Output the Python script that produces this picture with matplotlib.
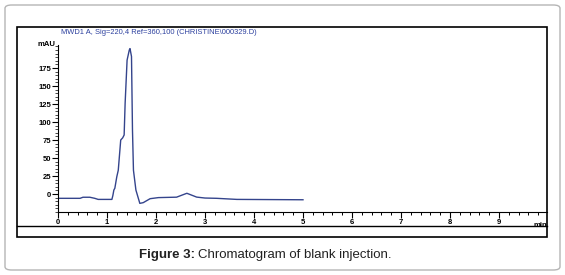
import matplotlib
matplotlib.use("Agg")
import matplotlib.pyplot as plt
from matplotlib.patches import FancyBboxPatch, Rectangle
from matplotlib.lines import Line2D
from matplotlib.ticker import MultipleLocator

# Data
time_min = [0.0, 0.45, 0.51, 0.65, 0.75, 0.82, 1.10, 1.12, 1.14, 1.16, 1.20, 1.23,
            1.28, 1.32, 1.35, 1.37, 1.41, 1.455, 1.47, 1.50, 1.52, 1.54, 1.59,
            1.67, 1.74, 1.88, 2.05, 2.42, 2.63, 2.83, 3.0, 3.24, 3.65, 5.0]
signal_mau = [-6.0, -6.0, -4.5, -4.5, -6.0, -7.5, -7.5, -2.0, 5.5, 8.0, 24.0, 33.0,
              75.0, 78.0, 82.0, 126.0, 186.0, 200.0, 202.0, 191.0, 89.0, 33.0, 5.5,
              -13.0, -12.0, -6.5, -5.0, -4.4, 1.0, -4.3, -5.6, -6.0, -7.5, -8.0]
y_ticks = [0, 25, 50, 75, 100, 125, 150, 175]
x_ticks = [0, 1, 2, 3, 4, 5, 6, 7, 8, 9]
title_text = "MWD1 A, Sig=220,4 Ref=360,100 (CHRISTINE\\000329.D)"

NARROW = ["Liberation Sans Narrow", "Liberation Sans", "DejaVu Sans"]
W, H = 565, 275
fig = plt.figure(figsize=(W / 100, H / 100), dpi=100)

def fx(px):
    return px / W

def fy(py):
    return 1 - py / H

# outer rounded box
fig.patches.append(FancyBboxPatch((fx(5), fy(270)), fx(555), 265 / H,
                                  boxstyle="round,pad=0,rounding_size=0.012",
                                  transform=fig.transFigure, fill=False,
                                  edgecolor="#b5b5b5", linewidth=1.0))
# inner chart frame
fig.patches.append(Rectangle((fx(17), fy(237)), fx(530), 210 / H,
                             transform=fig.transFigure, fill=False,
                             edgecolor="black", linewidth=1.2))
fig.lines.append(Line2D([fx(17), fx(547)], [fy(226), fy(226)],
                        transform=fig.transFigure, color="black", linewidth=1.0))

ax = fig.add_axes([fx(58), fy(212), fx(547 - 58), (212 - 45) / H])
ax.plot(time_min, signal_mau, color="#34448c", linewidth=1.0)
ax.set_xlim(0, 9.98)
ax.set_ylim(-25, 207)
for s in ["top", "right"]:
    ax.spines[s].set_visible(False)
for s in ["left", "bottom"]:
    ax.spines[s].set_linewidth(0.8)

ax.set_xticks(x_ticks)
ax.set_yticks(y_ticks)
ax.xaxis.set_minor_locator(MultipleLocator(0.2))
ax.yaxis.set_minor_locator(MultipleLocator(5))
ax.tick_params(axis="x", which="major", length=4, width=0.8, pad=1,
               labelsize=5.5, direction="out")
ax.tick_params(axis="x", which="minor", length=2.5, width=0.7, direction="out")
ax.tick_params(axis="y", which="major", length=4, width=0.8, pad=1,
               labelsize=5.5, direction="out")
ax.tick_params(axis="y", which="minor", length=2, width=0.5, direction="out")
for lab in ax.get_xticklabels() + ax.get_yticklabels():
    lab.set_fontweight("bold")
    lab.set_family(["Liberation Sans", "DejaVu Sans"])

ax.text(-0.005, 1.0, "mAU", transform=ax.transAxes, ha="right", va="center",
        fontsize=5.5, fontweight="bold", family=["Liberation Sans", "DejaVu Sans"])
ax.text(1.0, -0.06, "min", transform=ax.transAxes, ha="right", va="top",
        fontsize=5.5, fontweight="bold", family=["Liberation Sans", "DejaVu Sans"])

fig.text(fx(159), fy(32), title_text, ha="center", va="center", fontsize=5.4,
         color="#2b3f9e", family=NARROW)

t1 = fig.text(fx(139), fy(255), "Figure 3:", ha="left", va="center",
              fontsize=9.5, fontweight="bold", family="Liberation Sans", color="#222222")
fig.canvas.draw()
bb = t1.get_window_extent()
fig.text((bb.x1 + 3) / W, fy(255), "Chromatogram of blank injection.", ha="left",
         va="center", fontsize=9.5, family="Liberation Sans", color="#222222")

fig.savefig("out.png", dpi=100)
